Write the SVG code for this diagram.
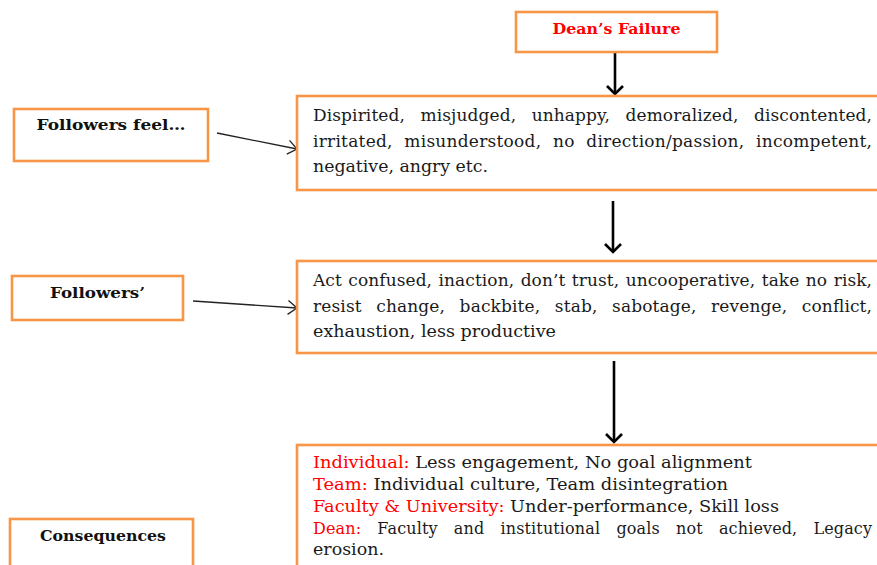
<svg xmlns="http://www.w3.org/2000/svg" width="877" height="565" viewBox="0 0 877 565">
<defs>
<style>
.box{fill:#fff;stroke:#F79646;stroke-width:2.6}
.lbl{font-family:"DejaVu Serif","Liberation Serif",serif;font-weight:bold;font-size:15px;fill:#111}
.body{font-family:"DejaVu Serif","Liberation Serif",serif;font-size:17px;fill:#1a1a1a}
.cons{font-family:"DejaVu Serif","Liberation Serif",serif;font-size:16px;fill:#1a1a1a}
.red{fill:#FF0000}
.vline{stroke:#000;stroke-width:2.6;fill:none}
.sline{stroke:#222;stroke-width:1.3;fill:none}
</style>
<marker id="ah" viewBox="0 0 20 20" refX="17" refY="10" markerWidth="20" markerHeight="20" markerUnits="userSpaceOnUse" orient="auto">
<path d="M9,2 L17,10 L9,18" fill="none" stroke="#000" stroke-width="2.6"/>
</marker>
<marker id="sh" viewBox="0 0 20 20" refX="17" refY="10" markerWidth="20" markerHeight="20" markerUnits="userSpaceOnUse" orient="auto">
<path d="M8,3 L17,10 L8,17" fill="none" stroke="#222" stroke-width="1.3"/>
</marker>
</defs>
<rect width="877" height="565" fill="#fff"/>

<g id="connectors">
<line class="vline" x1="615" y1="53" x2="615" y2="94" marker-end="url(#ah)"/>
<line class="vline" x1="613" y1="201" x2="613" y2="252" marker-end="url(#ah)"/>
<line class="vline" x1="614" y1="361" x2="614" y2="442" marker-end="url(#ah)"/>
<line class="sline" x1="217" y1="133" x2="297" y2="149" marker-end="url(#sh)"/>
<line class="sline" x1="193" y1="301" x2="297" y2="308" marker-end="url(#sh)"/>
</g>

<g id="deans-failure">
<rect class="box" x="516" y="12" width="201" height="40"/>
<text class="lbl red" x="616.5" y="34" text-anchor="middle" textLength="128" lengthAdjust="spacingAndGlyphs">Dean’s Failure</text>
</g>

<g id="followers-feel">
<rect class="box" x="14" y="109" width="194" height="52"/>
<text class="lbl" x="111" y="130" text-anchor="middle" textLength="149" lengthAdjust="spacingAndGlyphs">Followers feel…</text>
</g>

<g id="feelings">
<rect class="box" x="297" y="96" width="600" height="94"/>
<text class="body" x="313" y="121" word-spacing="10" textLength="559" lengthAdjust="spacing">Dispirited, misjudged, unhappy, demoralized, discontented,</text>
<text class="body" x="313" y="147" word-spacing="6" textLength="559" lengthAdjust="spacing">irritated, misunderstood, no direction/passion, incompetent,</text>
<text class="body" x="313" y="172" textLength="175" lengthAdjust="spacingAndGlyphs">negative, angry etc.</text>
</g>

<g id="followers-actions-label">
<rect class="box" x="12" y="276" width="171" height="44"/>
<text class="lbl" x="97.5" y="298" text-anchor="middle" textLength="95" lengthAdjust="spacingAndGlyphs">Followers’</text>
</g>

<g id="actions">
<rect class="box" x="297" y="261" width="600" height="92"/>
<text class="body" x="313" y="286" word-spacing="1" textLength="559" lengthAdjust="spacing">Act confused, inaction, don’t trust, uncooperative, take no risk,</text>
<text class="body" x="313" y="312" word-spacing="9" textLength="559" lengthAdjust="spacing">resist change, backbite, stab, sabotage, revenge, conflict,</text>
<text class="body" x="313" y="337" textLength="243" lengthAdjust="spacingAndGlyphs">exhaustion, less productive</text>
</g>

<g id="consequences-label">
<rect class="box" x="10" y="519" width="183" height="60"/>
<text class="lbl" x="103" y="541" text-anchor="middle" textLength="126" lengthAdjust="spacingAndGlyphs">Consequences</text>
</g>

<g id="consequences">
<rect class="box" x="297" y="445" width="600" height="140"/>
<text class="cons" x="313" y="468" textLength="439" lengthAdjust="spacingAndGlyphs"><tspan class="red">Individual:</tspan> Less engagement, No goal alignment</text>
<text class="cons" x="313" y="490" textLength="415" lengthAdjust="spacingAndGlyphs"><tspan class="red">Team:</tspan> Individual culture, Team disintegration</text>
<text class="cons" x="313" y="512" textLength="466" lengthAdjust="spacingAndGlyphs"><tspan class="red">Faculty &amp; University:</tspan> Under-performance, Skill loss</text>
<text class="cons" x="313" y="534" word-spacing="11" textLength="559" lengthAdjust="spacing"><tspan class="red">Dean:</tspan> Faculty and institutional goals not achieved, Legacy</text>
<text class="cons" x="313" y="555" textLength="71" lengthAdjust="spacingAndGlyphs">erosion.</text>
</g>
</svg>
